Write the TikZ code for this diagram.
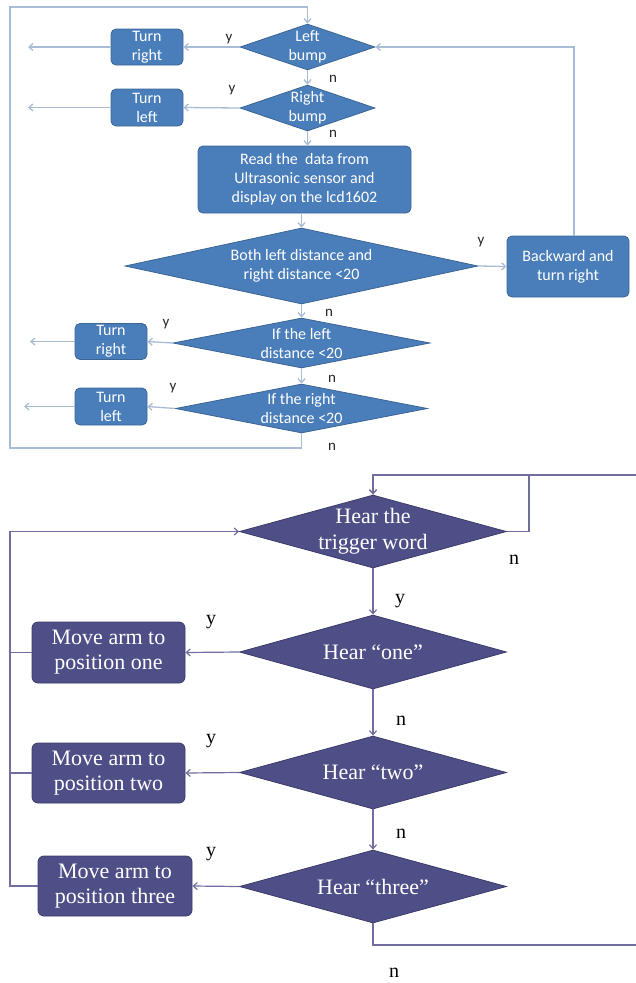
\documentclass[tikz,border=0pt]{standalone}
\usepackage{fontspec}
\setmainfont{Liberation Serif}
\newfontfamily\carl{Carlito}
\usetikzlibrary{shapes.geometric,arrows.meta,calc}
\definecolor{tfill}{HTML}{4A7EBB}
\definecolor{tdraw}{HTML}{3A6595}
\definecolor{tline}{HTML}{A9BCD6}
\definecolor{bfill}{HTML}{4F4F88}
\definecolor{bdraw}{HTML}{3B3B6B}
\definecolor{bline}{HTML}{6F6E9F}
\begin{document}
\begin{tikzpicture}[x=1pt,y=-1pt,
  tdia/.style={shape=diamond,fill=tfill,draw=tdraw,line width=0.8pt,inner sep=0pt},
  tbox/.style={shape=rectangle,rounded corners=5pt,fill=tfill,draw=tdraw,line width=0.8pt,inner sep=0pt,align=center,text=white,font=\carl\fontsize{16}{19}\selectfont},
  ttxt/.style={align=center,text=white,font=\carl\fontsize{16}{19}\selectfont},
  tlab/.style={text=black!85,font=\carl\fontsize{15}{17}\selectfont,inner sep=0pt},
  tarr/.style={draw=tline,line width=1.3pt,-{Straight Barb[length=4pt,width=7pt]}},
  bdia/.style={shape=diamond,fill=bfill,draw=bdraw,line width=0.8pt,inner sep=0pt},
  bbox/.style={shape=rectangle,rounded corners=6pt,fill=bfill,draw=bdraw,line width=0.8pt,inner sep=0pt,align=center,text=white,font=\fontsize{22}{25}\selectfont},
  btxt/.style={align=center,text=white,font=\fontsize{22}{26}\selectfont},
  blab/.style={text=black,font=\fontsize{20}{22}\selectfont,inner sep=0pt},
  barr/.style={draw=bline,line width=1.2pt,-{Straight Barb[length=4pt,width=7pt]}},
  bln/.style={draw=bline,line width=1.2pt}]
\useasboundingbox (0,0) rectangle (635,983);

% ---------------- top chart ----------------
\node[tdia,minimum width=135pt,minimum height=46pt,label={[ttxt]center:Left\\bump}] (lb) at (307.5,47) {};
\node[tdia,minimum width=135pt,minimum height=46pt,label={[ttxt]center:Right\\bump}] (rb) at (307.5,108) {};
\node[tbox,minimum width=72pt,minimum height=36pt] (tr1) at (147,47) {Turn\\right};
\node[tbox,minimum width=72pt,minimum height=37pt] (tl1) at (147,107.5) {Turn\\left};
\node[tbox,minimum width=213pt,minimum height=67pt] (rd) at (304.5,179.5) {Read the~ data from\\Ultrasonic sensor and\\display on the lcd1602};
\node[tdia,minimum width=353pt,minimum height=76pt,label={[ttxt]center:Both left distance and\\right distance <20}] (both) at (301.5,266) {};
\node[tbox,minimum width=122pt,minimum height=61pt] (back) at (568,266.5) {Backward and\\turn right};
\node[tdia,minimum width=257pt,minimum height=50pt,label={[ttxt]center:If the left\\distance <20}] (il) at (301.5,343) {};
\node[tbox,minimum width=72pt,minimum height=36pt] (tr2) at (111,341.5) {Turn\\right};
\node[tdia,minimum width=252pt,minimum height=49pt,label={[ttxt]center:If the right\\distance <20}] (ir) at (301.5,408.5) {};
\node[tbox,minimum width=72pt,minimum height=37pt] (tl2) at (111,406.5) {Turn\\left};

\coordinate (e1) at (28,47);
\coordinate (e2) at (28,107.5);
\coordinate (e3) at (30,341.5);
\coordinate (e4) at (24,406.5);
\coordinate (c1) at (301.5,448);
\coordinate (c2) at (10,448);
\coordinate (c3) at (10,7);
\coordinate (c4) at (307.5,7);

\draw[tarr] (lb.west) -- (tr1.east);
\draw[tarr] (tr1.west) -- (e1);
\draw[tarr] (rb.west) -- (tl1.east);
\draw[tarr] (tl1.west) -- (e2);
\draw[tarr] (lb.south) -- (rb.north);
\draw[tarr] (rb.south) -- (rb.south |- rd.north);
\draw[tarr] (both.north |- rd.south) -- (both.north);
\draw[tarr] (both.east) -- (back.west);
\draw[tarr] ([xshift=6pt]back.north) |- (lb.east);
\draw[tarr] (both.south) -- (il.north);
\draw[tarr] (il.west) -- (tr2.east);
\draw[tarr] (tr2.west) -- (e3);
\draw[tarr] (il.south) -- (ir.north);
\draw[tarr] (ir.west) -- (tl2.east);
\draw[tarr] (tl2.west) -- (e4);
\draw[tarr] (ir.south) -- (c1) -- (c2) -- (c3) -- (c4) -- (lb.north);

\node[tlab] (y1) at (229,39) {y};
\node[tlab] (n1) at (333,79) {n};
\node[tlab] (y2) at (232,90) {y};
\node[tlab] (n2) at (333,134) {n};
\node[tlab] (y3) at (481,242) {y};
\node[tlab] (n3) at (329,313) {n};
\node[tlab] (y4) at (166,324) {y};
\node[tlab] (n4) at (332,379) {n};
\node[tlab] (y5) at (173,388) {y};
\node[tlab] (n5) at (332,447) {n};

% ---------------- bottom chart ----------------
\node[bdia,minimum width=267pt,minimum height=73pt,label={[btxt]center:Hear the\\trigger word}] (trig) at (373,531.5) {};
\node[bdia,minimum width=267pt,minimum height=74pt,label={[btxt]center:Hear “one”}] (one) at (373,652) {};
\node[bdia,minimum width=267pt,minimum height=73pt,label={[btxt]center:Hear “two”}] (two) at (373,772.5) {};
\node[bdia,minimum width=267pt,minimum height=73pt,label={[btxt]center:Hear “three”}] (three) at (373,886.5) {};
\node[bbox,minimum width=153pt,minimum height=61pt] (m1) at (108.5,652.5) {Move arm to\\position one};
\node[bbox,minimum width=153pt,minimum height=60pt] (m2) at (108.5,773) {Move arm to\\position two};
\node[bbox,minimum width=154pt,minimum height=60pt] (m3) at (115,886) {Move arm to\\position three};

\coordinate (t1) at (529,531.5);
\coordinate (t2) at (529,475);
\coordinate (t3) at (373,475);
\coordinate (b1) at (373,945);
\coordinate (b2) at (645,945);
\coordinate (b3) at (645,475);
\coordinate (l0) at (10,531.5);
\coordinate (l1) at (10,652.5);
\coordinate (l2) at (10,773);
\coordinate (l3) at (10,886);

\draw[barr] (trig.east) -- (t1) -- (t2) -- (t3) -- (trig.north);
\draw[barr] (three.south) -- (b1) -- (b2) -- (b3) -- (t3) -- (trig.north);
\draw[barr] (trig.south) -- (one.north);
\draw[barr] (one.south) -- (two.north);
\draw[barr] (two.south) -- (three.north);
\draw[barr] (one.west) -- (m1.east);
\draw[barr] (two.west) -- (m2.east);
\draw[barr] (three.west) -- (m3.east);
\draw[bln] (m1.west) -- (l1);
\draw[bln] (m2.west) -- (l2);
\draw[barr] (m3.west) -- (l3) -- (l0) -- (trig.west);

\node[blab] (ny1) at (514,560) {n};
\node[blab] (yy1) at (400,601) {y};
\node[blab] (yy2) at (211,622) {y};
\node[blab] (ny2) at (401,721) {n};
\node[blab] (yy3) at (211,741) {y};
\node[blab] (ny3) at (401,834) {n};
\node[blab] (yy4) at (211,854) {y};
\node[blab] (ny4) at (394,973) {n};
\end{tikzpicture}
\end{document}
